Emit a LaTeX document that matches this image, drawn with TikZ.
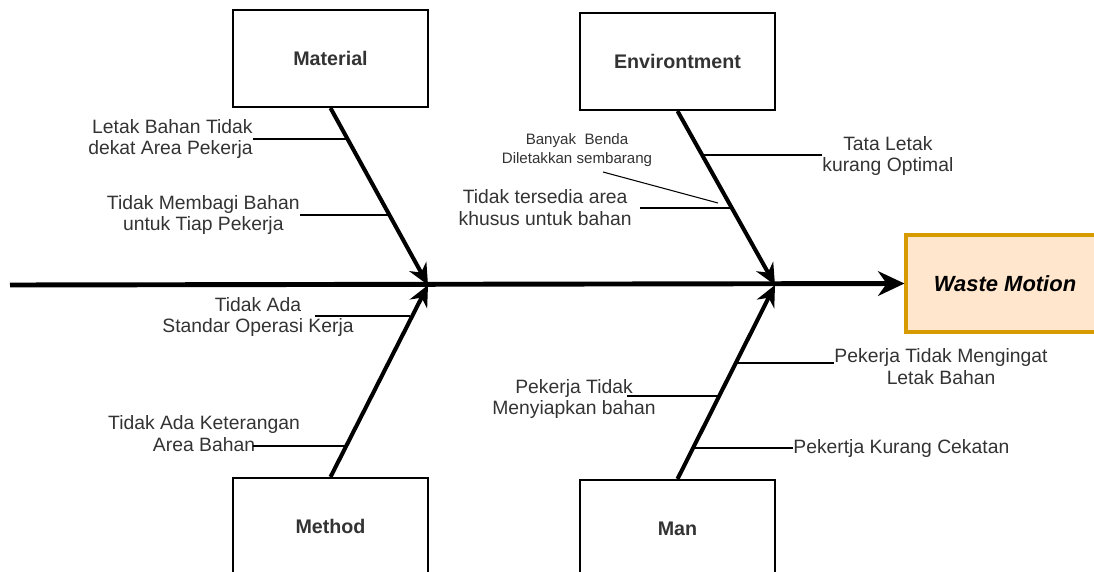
\documentclass[tikz,border=0pt]{standalone}
\usepackage{fontspec}
\setmainfont{Liberation Sans}
\usetikzlibrary{positioning}
\usetikzlibrary{arrows.meta}
\definecolor{wasteline}{HTML}{D79B00}
\definecolor{wastefill}{HTML}{FFE6CC}
\tikzset{catbox/.style={rectangle,draw=black,fill=white,line width=1.2pt,
inner sep=2pt,minimum width=3.9cm,minimum height=1.94cm,
font=\fontsize{11.2}{12.5}\selectfont\bfseries,text=black!80}}
\tikzset{effectbox/.style={rectangle,draw=wasteline,fill=wastefill,line width=1.8pt,
inner sep=2pt,minimum width=3.96cm,minimum height=1.94cm,
font=\fontsize{12.5}{14}\selectfont\bfseries\itshape}}
\tikzset{causetext/.style={inner sep=0pt,align=center,
font=\fontsize{11}{12.5}\selectfont,text=black!80}}
\tikzset{smalltext/.style={inner sep=0pt,align=center,
font=\fontsize{8.6}{10.8}\selectfont,text=black!80}}
\tikzset{spine/.style={line width=2.8pt,-{Stealth[length=15pt,width=14pt]}}}
\tikzset{bone/.style={line width=2.3pt,-{Stealth[length=12pt,width=11pt]}}}
\tikzset{twig/.style={line width=1.2pt}}
\tikzset{pointer/.style={line width=0.6pt}}

\begin{document}
\begin{tikzpicture}[x=0.02cm,y=-0.02cm]
    \useasboundingbox (0,0) rectangle (1094,571);

    % category boxes and effect
    \node[catbox] (mat) at (330.5,58.5) {Material};
    \node[catbox] (env) at (677.5,61.5) {Environtment};
    \node[catbox] (met) at (330.5,526.5) {Method};
    \node[catbox] (man) at (677.5,528.5) {Man};
    \node[effectbox] (waste) at (1005,283.5) {Waste Motion};

    % spine and main bones
    \coordinate (tail) at (10,285);
    \coordinate (jointA) at (428,285);
    \coordinate (jointB) at (775,285);
    \draw [spine] (tail) -- (waste.west);
    \draw [bone] (mat.south) -- (jointA);
    \draw [bone] (met.north) -- (jointA);
    \draw [bone] (env.south) -- (jointB);
    \draw [bone] (man.north) -- (jointB);

    % Material
    \node[causetext, align=right, anchor=east] (matAtxt) at (253,139) {Letak Bahan Tidak\\dekat Area Pekerja};
    \coordinate (matA) at (347,139);
    \draw [twig] (matAtxt.east) -- (matA);
    \node[causetext, anchor=east] (matBtxt) at (300,215) {Tidak Membagi Bahan\\untuk Tiap Pekerja};
    \coordinate (matB) at (389,215);
    \draw [twig] (matBtxt.east) -- (matB);

    % Method
    \node[causetext] (metAtxt) at (258,317) {Tidak Ada\\Standar Operasi Kerja};
    \coordinate (metAl) at (315,316);
    \coordinate (metA) at (410,316);
    \draw [twig] (metAl) -- (metA);
    \node[causetext] (metBtxt) at (204,434) {Tidak Ada Keterangan\\Area Bahan};
    \coordinate (metBl) at (253,446);
    \coordinate (metB) at (346,446);
    \draw [twig] (metBl) -- (metB);

    % Environtment
    \node[causetext, anchor=west] (envAtxt) at (822,156) {Tata Letak\\kurang Optimal};
    \coordinate (envA) at (702,155);
    \draw [twig] (envA) -- (envAtxt.west |- envA);
    \node[causetext, anchor=east] (envBtxt) at (632,208) {Tidak tersedia area\\khusus untuk bahan};
    \coordinate (envB) at (734,208);
    \draw [twig] ([xshift=4.5pt]envBtxt.east) -- (envB);
    \node[smalltext] (envCtxt) at (577,150.5) {Banyak\ \ Benda\\Diletakkan sembarang};
    \coordinate (envCl) at (603,172);
    \coordinate (envC) at (718,203);
    \draw [pointer] (envCl) -- (envC);

    % Man
    \node[causetext] (manAtxt) at (941,367) {Pekerja Tidak Mengingat\\Letak Bahan};
    \coordinate (manA) at (737,363);
    \draw [twig] (manA) -- (manAtxt.west |- manA);
    \node[causetext] (manBtxt) at (574,399) {Pekerja Tidak\\Menyiapkan bahan};
    \coordinate (manBl) at (627,396);
    \coordinate (manB) at (721,396);
    \draw [twig] (manBl) -- (manB);
    \node[causetext, anchor=west] (manCtxt) at (793,448) {Pekertja Kurang Cekatan};
    \coordinate (manC) at (694,448);
    \draw [twig] (manC) -- (manCtxt.west);

\end{tikzpicture}
\end{document}
